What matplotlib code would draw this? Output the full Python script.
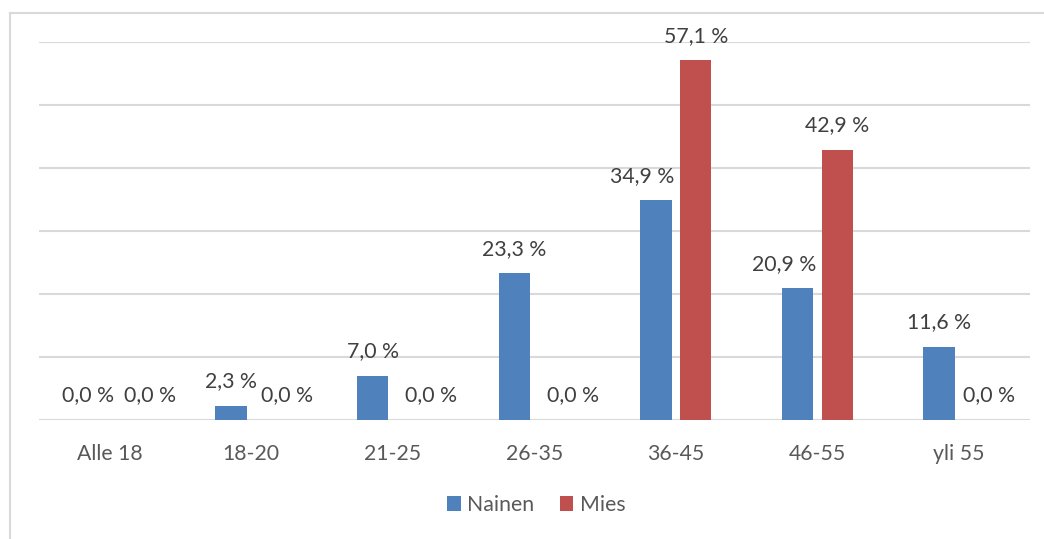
import matplotlib
matplotlib.use("Agg")
import matplotlib.pyplot as plt
from matplotlib.lines import Line2D
from matplotlib.patches import Patch

# Age groups and shares (%) per gender
categories = ["Alle 18", "18-20", "21-25", "26-35", "36-45", "46-55", "yli 55"]
nainen = [0.0, 2.3, 7.0, 23.3, 34.9, 20.9, 11.6]
mies = [0.0, 0.0, 0.0, 0.0, 57.1, 42.9, 0.0]
series_names = ["Nainen", "Mies"]

# Horizontal nudges (px) for value labels that would otherwise collide
nainen_dx = [-1.5, 0, 0, 0, -14, -13, 0]
mies_dx = [20.5, 16, 18.5, 19, 0, 0, 10.5]

BLUE = "#4F81BD"
RED = "#C0504D"
GRID = "#D9D9D9"
LABEL = "#404040"
TICK = "#595959"
FONT = "Lato"
FS = 15.3

W, H = 1044, 539
fig = plt.figure(figsize=(W / 100, H / 100), dpi=100)
fig.patch.set_facecolor("white")

ax = fig.add_axes([38.75 / W, (H - 420) / H, (1029.75 - 38.75) / W, 378 / H])
ax.set_xlim(-0.5, len(categories) - 0.5)
ax.set_ylim(0, 60)

bar_w = 0.222
off = 0.141
x = list(range(len(categories)))
ax.bar([i - off for i in x], nainen, width=bar_w, color=BLUE, zorder=3)
ax.bar([i + off for i in x], mies, width=bar_w, color=RED, zorder=3)

for spine in ax.spines.values():
    spine.set_visible(False)
ax.set_yticks(range(0, 61, 10))
ax.yaxis.grid(True, color=GRID, linewidth=1.5)
ax.set_axisbelow(True)
ax.tick_params(axis="y", left=False, labelleft=False)
ax.set_xticks(x)
ax.set_xticklabels(categories, fontsize=FS, color=TICK, family=FONT)
ax.tick_params(axis="x", length=0, pad=17)

def fmt(v):
    return f"{v:.1f}".replace(".", ",") + " %"

px2pt = 0.72
for i in x:
    ax.annotate(fmt(nainen[i]), xy=(i - off, nainen[i]),
                xytext=(nainen_dx[i] * px2pt, 24.5 * px2pt), textcoords="offset points",
                ha="center", va="center", fontsize=FS, color=LABEL, family=FONT)
    ax.annotate(fmt(mies[i]), xy=(i + off, mies[i]),
                xytext=(mies_dx[i] * px2pt, 24.5 * px2pt), textcoords="offset points",
                ha="center", va="center", fontsize=FS, color=LABEL, family=FONT)

# Chart frame (left and top edges)
fig.add_artist(Line2D([9.5 / W, 9.5 / W], [0, 1 - 12.5 / H], color=GRID, linewidth=1.5))
fig.add_artist(Line2D([9.5 / W, 1], [1 - 12.5 / H, 1 - 12.5 / H], color=GRID, linewidth=1.5))

handles = [Patch(facecolor=BLUE), Patch(facecolor=RED)]
fig.legend(handles, series_names, loc="center", bbox_to_anchor=(536 / W, 1 - 505 / H),
           ncol=2, frameon=False, handlelength=0.65, handleheight=0.65,
           handletextpad=0.3, columnspacing=1.2,
           prop={"family": FONT, "size": FS}, labelcolor=TICK)

fig.savefig("out.png", dpi=100)
